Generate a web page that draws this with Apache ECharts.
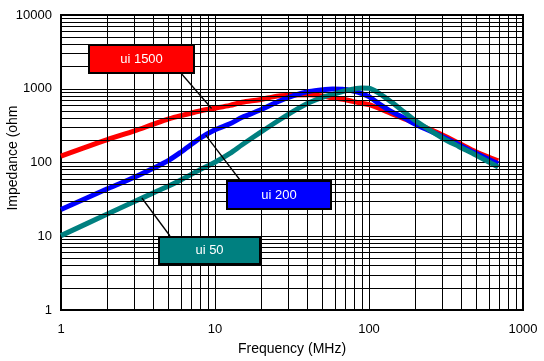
<!DOCTYPE html>
<html><head><meta charset="utf-8">
<script src="https://cdn.jsdelivr.net/npm/echarts@6/dist/echarts.min.js"></script>
<style>html,body{margin:0;padding:0;background:#fff}#c{width:544px;height:361px}</style>
</head><body><div id="c"></div>
<script>
// Frequency (MHz)
const freq   = [1, 2, 3, 4, 5, 6, 8, 10, 12.5, 15, 19.5, 26, 32, 41, 52, 58, 68, 78, 90, 100, 117, 140, 170, 200, 300, 385, 494, 690];
// Impedance (ohm)
const ui1500 = [122, 204, 268, 332, 390, 433, 500, 545, 595, 655, 711, 800, 820, 830, 785, 750, 720, 675, 635, 610, 540, 460, 390, 340, 236, 182, 140, 105];
const ui200  = [23, 44, 63, 84, 107, 138, 213, 278, 335, 410, 510, 676, 800, 920, 980, 993, 985, 935, 860, 780, 620, 490, 400, 330, 224, 173, 133, 96];
const ui50   = [10.2, 20, 29.5, 39, 48, 58, 80, 101, 133, 174, 252, 374, 490, 650, 790, 838, 925, 985, 1025, 1015, 860, 660, 480, 370, 215, 164, 126, 87];
const seriesNames = ['ui 1500', 'ui 200', 'ui 50'];
const xTicks = [1, 10, 100, 1000];
const yTicks = [1, 10, 100, 1000, 10000];
// leader-line anchor points on the curves [freq, impedance]
const anchors = [[9.5, 540], [8.7, 235], [3.35, 33]];

const colors = ['#ff0000', '#0000ff', '#008080'];
const FONT = '"Liberation Sans", Arial, sans-serif';

function minorVals(ticks) {
  const out = [];
  for (let i = 0; i < ticks.length - 1; i++)
    for (let m = 2; m <= 9; m++) out.push(ticks[i] * m);
  return out;
}
const pairs = a => a.map((v, i) => [freq[i], v]);

const chart = echarts.init(document.getElementById('c'), null, {renderer: 'canvas'});
const gridLineStyle = {color: '#000', width: 1, type: 'solid'};

const boxes = [
  {x: 88, y: 44, w: 105, h: 28},
  {x: 226, y: 180, w: 104, h: 28},
  {x: 158, y: 236, w: 101, h: 27}
];
const boxEnds = [{x: 180, y: 72}, {x: 240, y: 180}, {x: 170, y: 236}];

chart.setOption({
  animation: false,
  backgroundColor: '#fff',
  grid: {left: 61, right: 21, top: 15, bottom: 51, containLabel: false, outerBoundsMode: 'none',
    show: true, borderColor: '#000', borderWidth: 2, backgroundColor: 'transparent'},
  xAxis: {
    type: 'log', logBase: 10, min: xTicks[0], max: xTicks[xTicks.length - 1],
    name: 'Frequency (MHz)', nameLocation: 'middle', nameGap: 32, nameMoveOverlap: false,
    nameTextStyle: {fontFamily: FONT, fontSize: 14, color: '#000'},
    axisLine: {show: false}, axisTick: {show: false},
    axisLabel: {fontFamily: FONT, fontSize: 13, color: '#000', margin: 13, formatter: v => String(Math.round(v))},
    splitLine: {show: true, lineStyle: gridLineStyle}
  },
  yAxis: {
    type: 'log', logBase: 10, min: yTicks[0], max: yTicks[yTicks.length - 1],
    name: 'Impedance (ohm', nameLocation: 'middle', nameGap: 41, nameMoveOverlap: false,
    nameTextStyle: {fontFamily: FONT, fontSize: 14, color: '#000', padding: [0, 0, 0, 9]},
    axisLine: {show: false}, axisTick: {show: false},
    axisLabel: {fontFamily: FONT, fontSize: 13, color: '#000', margin: 9, formatter: v => String(Math.round(v))},
    splitLine: {show: true, lineStyle: gridLineStyle}
  },
  series: [
    {
      type: 'line', data: [], z: 1, silent: true,
      markLine: {
        silent: true, symbol: 'none', animation: false,
        label: {show: false}, lineStyle: gridLineStyle, emphasis: {disabled: true},
        data: minorVals(xTicks).map(v => ({xAxis: v})).concat(minorVals(yTicks).map(v => ({yAxis: v})))
      }
    },
    ...[ui1500, ui200, ui50].map((arr, i) => ({
      name: seriesNames[i], type: 'line', data: pairs(arr), smooth: 0.3,
      showSymbol: false, symbol: 'none', z: 3,
      lineStyle: {color: colors[i], width: 5},
      itemStyle: {color: colors[i]}
    })),
    {
      type: 'line', data: [], z: 4, silent: true,
      markLine: {
        silent: true, symbol: 'none', animation: false,
        label: {show: false}, lineStyle: {color: '#000', width: 1.3, type: 'solid'},
        emphasis: {disabled: true},
        data: anchors.map((a, i) => [{coord: a}, {x: boxEnds[i].x, y: boxEnds[i].y}])
      }
    }
  ],
  graphic: boxes.map((b, i) => ({
    type: 'group', left: b.x, top: b.y,
    children: [
      {type: 'rect', z: 100, shape: {x: 0, y: 0, width: b.w, height: b.h}, style: {fill: colors[i], stroke: '#000', lineWidth: 2}},
      {type: 'text', z: 101, x: b.w / 2, y: b.h / 2, style: {text: seriesNames[i], fill: '#fff', font: '13px ' + FONT, textAlign: 'center', textVerticalAlign: 'middle'}}
    ]
  }))
});
</script></body></html>
